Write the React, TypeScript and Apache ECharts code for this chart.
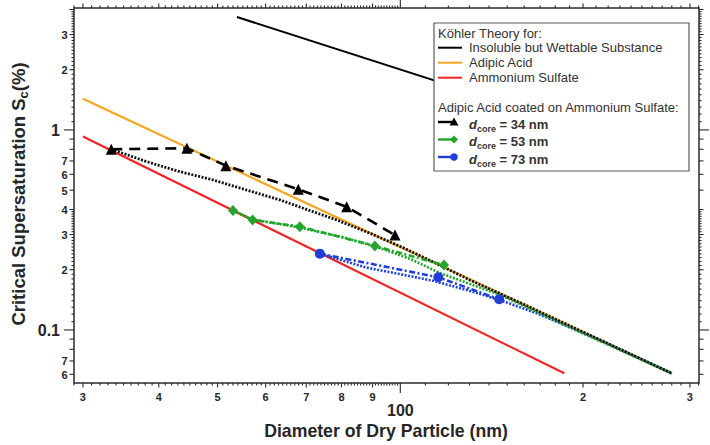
import { useEffect, useRef } from 'react';
import * as echarts from 'echarts';

const FONT = '"Liberation Sans", Arial, Helvetica, sans-serif';
const AXIS_COLOR = '#2b2b2b';
const TEXT_COLOR = '#262626';
const ORANGE = '#f7a51e';
const RED = '#ef2424';
const GREEN = '#22a52a';
const BLUE = '#1f3fd8';

// Axis extents (dry diameter in nm, critical supersaturation in %)
const X_MIN = 29.0;
const X_MAX = 310.5;
const Y_MIN = 0.0543;
const Y_MAX = 4.07;

// Köhler theory curves
const insolubleDiameter = [53.8, 200];
const insolubleSc = [3.67, 1.02];
const adipicDiameter = [30, 100, 280];
const adipicSc = [1.43, 0.26, 0.0607];
const sulfateDiameter = [30, 186.3];
const sulfateSc = [0.926, 0.0607];

// Adipic acid coated on ammonium sulfate: measurements
const core34Diameter = [33.4, 44.5, 51.6, 67.9, 81.6, 98.0];
const core34Sc = [0.8, 0.81, 0.663, 0.505, 0.413, 0.298];
const core53Diameter = [53.0, 57.1, 68.3, 90.8, 118];
const core53Sc = [0.395, 0.355, 0.3285, 0.263, 0.211];
const core73Diameter = [73.7, 115.5, 145.5];
const core73Sc = [0.2407, 0.1834, 0.1424];

// Adipic acid coated on ammonium sulfate: theory
const core34TheoryDiameter = [33.4, 38.2, 43.3, 49.2, 55.8, 63.3, 69.2, 78.5, 89.1, 101, 115, 130, 160, 280];
const core34TheorySc = [0.8, 0.694, 0.619, 0.562, 0.501, 0.447, 0.406, 0.355, 0.3045, 0.258, 0.214, 0.178, 0.134, 0.0607];
const core53TheoryDiameter = [53.0, 57.1, 68.3, 80, 90.8, 104, 116, 146, 200, 280];
const core53TheorySc = [0.395, 0.357, 0.325, 0.292, 0.262, 0.226, 0.193, 0.1496, 0.096, 0.0607];
const core73TheoryDiameter = [73.7, 88, 100, 113.3, 130, 146, 168, 216, 280];
const core73TheorySc = [0.2407, 0.205, 0.19, 0.176, 0.157, 0.141, 0.121, 0.0874, 0.0607];

// Tick labels
const xLabelValues = [30, 40, 50, 60, 70, 80, 90, 100, 200, 300];
const xLabelTexts = ['3', '4', '5', '6', '7', '8', '9', '100', '2', '3'];
const yLabelValues = [0.06, 0.07, 0.1, 0.2, 0.3, 0.4, 0.5, 0.6, 0.7, 1, 2, 3];
const yLabelTexts = ['6', '7', '0.1', '2', '3', '4', '5', '6', '7', '1', '2', '3'];

// Tick marks
const xMajorTicks = [100];
const xMediumTicks = [30, 40, 50, 60, 70, 80, 90, 200, 300];
const yMajorTicks = [0.1, 1];
const yMediumTicks = [0.06, 0.07, 0.08, 0.09, 0.2, 0.3, 0.4, 0.5, 0.6, 0.7, 0.8, 0.9, 2, 3, 4];

const r3 = (v: number) => Math.round(v * 1000) / 1000;
const xMinorTicks: number[] = [];
for (let v = 29; v < 100; v += 1) if (v % 10 !== 0) xMinorTicks.push(v);
for (let v = 110; v <= 310; v += 10) if (v % 100 !== 0) xMinorTicks.push(v);
const yMinorTicks: number[] = [];
for (let i = 11; i < 40; i++) if (i % 10 !== 0) yMinorTicks.push(r3(i / 100));
for (let i = 11; i < 41; i++) if (i % 10 !== 0) yMinorTicks.push(r3(i / 10));

const pairs = (xs: number[], ys: number[]) => xs.map((x, i) => [x, ys[i]]);

const curve = (name: string, xs: number[], ys: number[], color: string, width: number, type: any) => ({
  type: 'line',
  name,
  data: pairs(xs, ys),
  symbol: 'none',
  showSymbol: false,
  silent: true,
  lineStyle: { color, width, type, cap: 'butt' },
});

const measured = (
  name: string,
  xs: number[],
  ys: number[],
  color: string,
  symbol: string,
  size: number | number[],
  type: any,
) => ({
  type: 'line',
  name,
  data: pairs(xs, ys),
  symbol,
  symbolSize: size,
  showSymbol: true,
  silent: true,
  itemStyle: { color, borderWidth: 0 },
  lineStyle: { color, width: 2.6, type, cap: 'butt' },
  z: 5,
});

const tickLine = (x1: number, y1: number, x2: number, y2: number) => ({
  type: 'line',
  shape: { x1, y1, x2, y2 },
  style: { stroke: AXIS_COLOR, lineWidth: 1.1 },
});

const xTickData = [
  ...xMinorTicks.map((v) => [v, Y_MIN, 2.5]),
  ...xMediumTicks.map((v) => [v, Y_MIN, 4.5]),
  ...xMajorTicks.map((v) => [v, Y_MIN, 10]),
];
const yTickData = [
  ...yMinorTicks.map((v) => [X_MIN, v, 2.5]),
  ...yMediumTicks.map((v) => [X_MIN, v, 4.5]),
  ...yMajorTicks.map((v) => [X_MIN, v, 10]),
];

const legendRows = [
  { text: 'Insoluble but Wettable Substance', color: '#000000', y: 47.7 },
  { text: 'Adipic Acid', color: ORANGE, y: 62.7 },
  { text: 'Ammonium Sulfate', color: RED, y: 77.7 },
];
const coreRows = [
  { size: '34', color: '#000000', y: 122, marker: 'triangle' },
  { size: '53', color: GREEN, y: 139.5, marker: 'diamond' },
  { size: '73', color: BLUE, y: 157, marker: 'circle' },
];

const LEGEND_Z = 100;

const markerGlyph = (kind: string, cx: number, cy: number, color: string) => {
  if (kind === 'triangle') {
    return { type: 'polygon', z: LEGEND_Z, shape: { points: [[cx, cy - 4.5], [cx + 4.5, cy + 3.5], [cx - 4.5, cy + 3.5]] }, style: { fill: color } };
  }
  if (kind === 'diamond') {
    return { type: 'polygon', z: LEGEND_Z, shape: { points: [[cx, cy - 4], [cx + 4, cy], [cx, cy + 4], [cx - 4, cy]] }, style: { fill: color } };
  }
  return { type: 'circle', z: LEGEND_Z, shape: { cx, cy, r: 3.8 }, style: { fill: color } };
};

const legendText = (text: string, x: number, y: number) => ({
  type: 'text',
  z: LEGEND_Z,
  x,
  y,
  style: { text, fill: '#333333', font: `13px ${FONT}`, align: 'left', verticalAlign: 'middle' },
});

const legendElements = [
  {
    type: 'rect',
    z: LEGEND_Z - 1,
    shape: { x: 434, y: 23, width: 255, height: 148 },
    style: { fill: '#ffffff', stroke: '#5a5a5a', lineWidth: 1.2 },
  },
  legendText('Köhler Theory for:', 438, 33.3),
  ...legendRows.flatMap((r) => [
    { type: 'line', z: LEGEND_Z, shape: { x1: 438, y1: r.y, x2: 462, y2: r.y }, style: { stroke: r.color, lineWidth: 2 } },
    legendText(r.text, 469, r.y),
  ]),
  legendText('Adipic Acid coated on Ammonium Sulfate:', 438, 107.3),
  ...coreRows.flatMap((r) => [
    { type: 'line', z: LEGEND_Z, shape: { x1: 438, y1: r.y, x2: 454, y2: r.y }, style: { stroke: r.color, lineWidth: 2.4 } },
    markerGlyph(r.marker, 454, r.y, r.color),
    {
      type: 'text',
      z: LEGEND_Z,
      x: 469,
      y: r.y + 2,
      style: {
        text: `{i|d}{s|core}{b| = ${r.size} nm}`,
        fill: '#333333',
        align: 'left',
        verticalAlign: 'middle',
        rich: {
          i: { fontFamily: FONT, fontSize: 13, fontWeight: 'bold', fontStyle: 'italic', lineHeight: 18, fill: '#333333' },
          s: { fontFamily: FONT, fontSize: 9, fontWeight: 'bold', lineHeight: 9, verticalAlign: 'bottom', fill: '#333333' },
          b: { fontFamily: FONT, fontSize: 13, fontWeight: 'bold', lineHeight: 18, fill: '#333333' },
        },
      },
    },
  ]),
];

const option: any = {
  animation: false,
  backgroundColor: '#ffffff',
  grid: {
    show: true,
    left: 74,
    right: 11,
    top: 8,
    bottom: 62,
    borderColor: AXIS_COLOR,
    borderWidth: 1.5,
    backgroundColor: 'transparent',
  },
  xAxis: {
    type: 'log',
    logBase: 10,
    min: X_MIN,
    max: X_MAX,
    axisLine: { show: false },
    axisTick: { show: false },
    axisLabel: { show: false },
    splitLine: { show: false },
  },
  yAxis: {
    type: 'log',
    logBase: 10,
    min: Y_MIN,
    max: Y_MAX,
    axisLine: { show: false },
    axisTick: { show: false },
    axisLabel: { show: false },
    splitLine: { show: false },
  },
  series: [
    curve('Ammonium Sulfate', sulfateDiameter, sulfateSc, RED, 2.2, 'solid'),
    curve('Adipic Acid', adipicDiameter, adipicSc, ORANGE, 2.2, 'solid'),
    curve('Insoluble but Wettable Substance', insolubleDiameter, insolubleSc, '#000000', 2, 'solid'),
    curve('73 nm theory', core73TheoryDiameter, core73TheorySc, BLUE, 2.6, [2, 1.5]),
    curve('53 nm theory', core53TheoryDiameter, core53TheorySc, GREEN, 2.6, [2, 1.5]),
    curve('34 nm theory', core34TheoryDiameter, core34TheorySc, '#111111', 2.8, [2, 1.5]),
    measured('d_core = 73 nm', core73Diameter, core73Sc, BLUE, 'circle', 10, [6, 2.5, 2, 2.5]),
    measured('d_core = 53 nm', core53Diameter, core53Sc, GREEN, 'diamond', [10, 11], [6, 2.5, 2, 2.5]),
    measured('d_core = 34 nm', core34Diameter, core34Sc, '#000000', 'triangle', 11, [11, 7]),
    {
      type: 'custom',
      silent: true,
      z: 10,
      data: xTickData,
      encode: { x: 0, y: 1 },
      renderItem: (_p: any, api: any) => {
        const v = api.value(0);
        const len = api.value(2);
        const b = api.coord([v, Y_MIN]);
        const t = api.coord([v, Y_MAX]);
        return {
          type: 'group',
          children: [tickLine(b[0], b[1], b[0], b[1] + len), tickLine(t[0], t[1], t[0], t[1] - len)],
        };
      },
    },
    {
      type: 'custom',
      silent: true,
      z: 10,
      data: yTickData,
      encode: { x: 0, y: 1 },
      renderItem: (_p: any, api: any) => {
        const v = api.value(1);
        const len = api.value(2);
        const l = api.coord([X_MIN, v]);
        const r = api.coord([X_MAX, v]);
        return {
          type: 'group',
          children: [tickLine(l[0], l[1], l[0] - len, l[1]), tickLine(r[0], r[1], r[0] + len, r[1])],
        };
      },
    },
    {
      type: 'custom',
      silent: true,
      z: 10,
      data: xLabelValues.map((v) => [v, Y_MIN]),
      encode: { x: 0, y: 1 },
      renderItem: (params: any, api: any) => {
        const p = api.coord([api.value(0), Y_MIN]);
        const txt = xLabelTexts[params.dataIndex];
        const big = txt === '100';
        return {
          type: 'text',
          x: p[0],
          y: p[1] + (big ? 27.7 : 13.5),
          style: {
            text: txt,
            fill: TEXT_COLOR,
            font: `bold ${big ? 16 : 11}px ${FONT}`,
            align: 'center',
            verticalAlign: 'middle',
          },
        };
      },
    },
    {
      type: 'custom',
      silent: true,
      z: 10,
      data: yLabelValues.map((v) => [X_MIN, v]),
      encode: { x: 0, y: 1 },
      renderItem: (params: any, api: any) => {
        const p = api.coord([X_MIN, api.value(1)]);
        const txt = yLabelTexts[params.dataIndex];
        const big = txt === '1' || txt === '0.1';
        return {
          type: 'text',
          x: p[0] - (big ? 14 : 6.5),
          y: p[1] + 0.5,
          style: {
            text: txt,
            fill: TEXT_COLOR,
            font: `bold ${big ? 16 : 11}px ${FONT}`,
            align: 'right',
            verticalAlign: 'middle',
          },
        };
      },
    },
  ],
  graphic: [
    {
      type: 'text',
      x: 386,
      y: 431,
      style: {
        text: 'Diameter of Dry Particle (nm)',
        fill: TEXT_COLOR,
        font: `bold 17.7px ${FONT}`,
        align: 'center',
        verticalAlign: 'middle',
      },
    },
    {
      type: 'text',
      x: 18,
      y: 194,
      rotation: Math.PI / 2,
      style: {
        text: '{a|Critical Supersaturation S}{s|c}{a|(%)}',
        fill: TEXT_COLOR,
        align: 'center',
        verticalAlign: 'middle',
        rich: {
          a: { fontFamily: FONT, fontSize: 18.5, fontWeight: 'bold', lineHeight: 23, fill: TEXT_COLOR },
          s: { fontFamily: FONT, fontSize: 13, fontWeight: 'bold', lineHeight: 13, verticalAlign: 'bottom', fill: TEXT_COLOR },
        },
      },
    },
    ...legendElements,
  ],
};

export default function App() {
  const ref = useRef<HTMLDivElement>(null);
  useEffect(() => {
    if (!ref.current) return;
    const chart = echarts.init(ref.current, null, { renderer: 'svg' });
    chart.setOption(option);
    return () => chart.dispose();
  }, []);
  return <div ref={ref} style={{ position: 'absolute', left: 0, top: 0, width: 710, height: 445 }} />;
}
